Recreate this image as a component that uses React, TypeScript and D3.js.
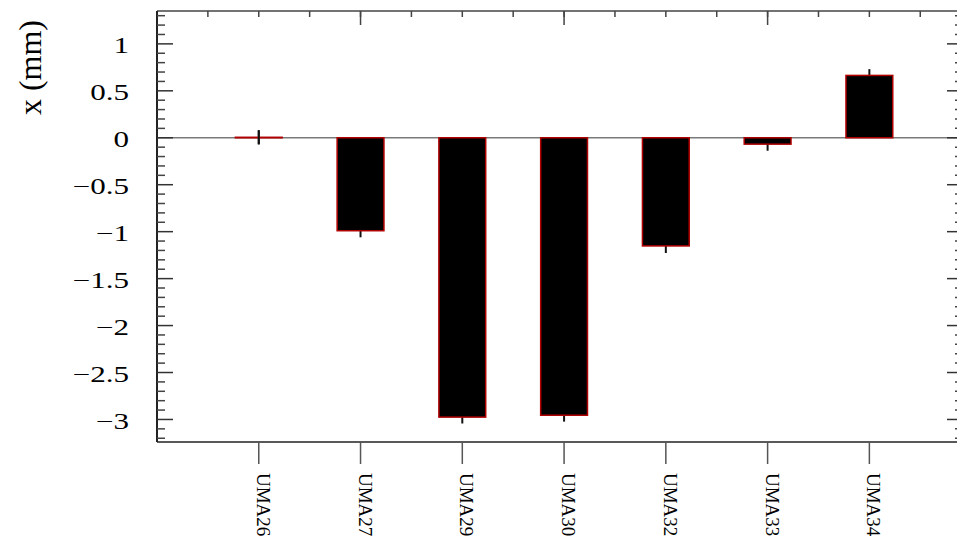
import React from "react";
import * as d3 from "d3";

const categories = ["UMA26", "UMA27", "UMA29", "UMA30", "UMA32", "UMA33", "UMA34"];
const values = [0.005, -0.99, -2.975, -2.955, -1.152, -0.068, 0.664];
const errors = [0.075, 0.07, 0.068, 0.068, 0.075, 0.07, 0.067];
const yMajorTicks = [-3, -2.5, -2, -1.5, -1, -0.5, 0, 0.5, 1];
const yTickLabels = ["\u22123", "\u22122.5", "\u22122", "\u22121.5", "\u22121", "\u22120.5", "0", "0.5", "1"];
const yTitle = "x (mm)";

const W = 957;
const H = 538;
const L = 157, R = 963, T = 11, B = 442;
const FONT = "Liberation Serif, Times New Roman, Times, serif";

export default function App() {
  const x = d3.scaleLinear().domain([-1, 6.92]).range([L, R]);
  const y = d3.scaleLinear().domain([-3.24, 1.35]).range([B, T]);
  const barW = 0.46 * (x(1) - x(0));

  const yMinor = d3.range(-32, 14).map((d) => d / 10).filter((v) => Math.abs(Math.round(v * 2) - v * 2) > 1e-6);
  const topMinor = d3.range(-2, 14).map((d) => d / 2).filter((v) => x(v) > L + 1 && x(v) < R - 1);
  const topMajor = [1, 3, 5];

  return (
    <svg width={W} height={H} style={{ position: "absolute", left: 0, top: 0, fontFamily: FONT }}>
      <rect x={0} y={0} width={W} height={H} fill="white" />
      <line x1={L} x2={R} y1={y(0)} y2={y(0)} stroke="#7a7a7a" strokeWidth={1.5} />
      {values.map((v, i) => (
        <line key={"e" + i} x1={x(i)} x2={x(i)} y1={y(v - errors[i])} y2={y(v + errors[i])} stroke="#111" strokeWidth={2} />
      ))}
      {values.map((v, i) => (
        <rect
          key={"b" + i}
          x={x(i) - barW / 2}
          y={Math.min(y(v), y(0))}
          width={barW}
          height={Math.max(Math.abs(y(v) - y(0)), 0.5)}
          fill="#000"
          stroke="#b00000"
          strokeWidth={1.5}
        />
      ))}
      {values.map((v, i) =>
        Math.abs(y(v) - y(0)) < 3 ? (
          <line key={"e2" + i} x1={x(i)} x2={x(i)} y1={y(v - errors[i])} y2={y(v + errors[i])} stroke="#111" strokeWidth={2} />
        ) : null
      )}
      <line x1={L} x2={R} y1={T} y2={T} stroke="#444" strokeWidth={1.5} />
      <line x1={L} x2={R} y1={B} y2={B} stroke="#222" strokeWidth={1.5} />
      <line x1={L} x2={L} y1={T} y2={B} stroke="#222" strokeWidth={2} />
      <line x1={R} x2={R} y1={T} y2={B} stroke="#222" strokeWidth={2} />
      {yMajorTicks.map((v) => (
        <g key={"ym" + v}>
          <line x1={L} x2={L + 16} y1={y(v)} y2={y(v)} stroke="#333" strokeWidth={1.5} />
          <line x1={R} x2={R - 16} y1={y(v)} y2={y(v)} stroke="#333" strokeWidth={1.5} />
        </g>
      ))}
      {yMinor.map((v) => (
        <g key={"yn" + v}>
          <line x1={L} x2={L + 8} y1={y(v)} y2={y(v)} stroke="#444" strokeWidth={1.5} />
          <line x1={R} x2={R - 8} y1={y(v)} y2={y(v)} stroke="#444" strokeWidth={1.5} />
        </g>
      ))}
      {yMajorTicks.map((v, i) => (
        <text
          key={"yl" + v}
          transform={`translate(129,${y(v) + 9.5}) scale(1.38,1)`}
          textAnchor="end"
          fontSize={22.5}
          fill="#000"
          style={{ fontFamily: FONT }}
        >
          {yTickLabels[i]}
        </text>
      ))}
      {topMinor.map((v) => (
        <line key={"tn" + v} x1={x(v)} x2={x(v)} y1={T} y2={T + 6} stroke="#444" strokeWidth={1.5} />
      ))}
      {topMajor.map((v) => (
        <line key={"tm" + v} x1={x(v)} x2={x(v)} y1={T} y2={T + 14} stroke="#444" strokeWidth={1.5} />
      ))}
      {categories.map((c, i) => (
        <g key={"c" + c}>
          <line x1={x(i)} x2={x(i)} y1={B} y2={B + 22} stroke="#555" strokeWidth={1.5} />
          <text transform={`translate(${x(i) - 2},473) rotate(90)`} fontSize={19} fill="#000" style={{ fontFamily: FONT }}>
            {c}
          </text>
        </g>
      ))}
      <text transform={`translate(41,20) rotate(-90)`} textAnchor="end" fontSize={32} fill="#000" style={{ fontFamily: FONT }}>
        {yTitle}
      </text>
    </svg>
  );
}
